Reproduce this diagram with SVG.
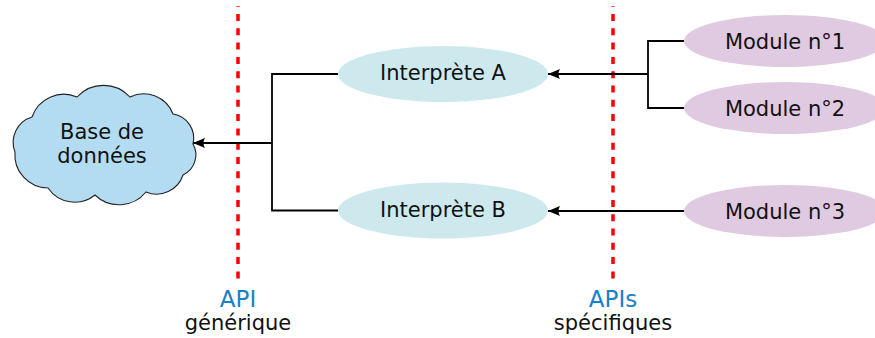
<svg xmlns="http://www.w3.org/2000/svg" width="875" height="338" viewBox="0 0 875 338">
  <defs>
    <marker id="arrow" viewBox="-13 -6 14 12" markerWidth="14" markerHeight="12" refX="0" refY="0" orient="auto" markerUnits="userSpaceOnUse">
      <path d="M0,0 L-12,-5 Q-9,0 -12,5 Z" fill="#000"/>
    </marker>
    <style>
      text { font-family: "DejaVu Sans", "Liberation Sans", sans-serif; font-size: 21px; fill: #111; text-anchor: middle; }
      .api { stroke: #ff0000; stroke-width: 3.5; stroke-dasharray: 7 7.3; stroke-dashoffset: 6.3; fill: none; }
      .edge { stroke: #000; stroke-width: 1.8; fill: none; }
      .interp { fill: #cde9ed; }
      .module { fill: #dfcae2; }
      .cloud { fill: #b3dcf3; stroke: #222; stroke-width: 1.1; }
      .blue { fill: #1b80c8; font-size: 23px; }
    </style>
  </defs>

  <!-- API boundaries -->
  <g id="api-boundaries">
    <line class="api" x1="238" y1="6" x2="238" y2="281"/>
    <line class="api" x1="613" y1="6" x2="613" y2="281"/>
  </g>

  <!-- connectors -->
  <g id="connectors">
    <polyline class="edge" points="338,74 272,74 272,210.5 338,210.5"/>
    <line class="edge" x1="272" y1="143" x2="193" y2="143" marker-end="url(#arrow)"/>
    <polyline class="edge" points="684,41 648,41 648,108 684,108"/>
    <line class="edge" x1="648" y1="74" x2="548" y2="74" marker-end="url(#arrow)"/>
    <line class="edge" x1="684" y1="211" x2="548" y2="211" marker-end="url(#arrow)"/>
  </g>

  <!-- database -->
  <g id="database">
    <path class="cloud" d="M77,97 A36,36 0 0 1 130,97 A31.4,31.4 0 0 1 173,114 A24.5,24.5 0 0 1 193,144 A22.2,22.2 0 0 1 183,175 A27.7,27.7 0 0 1 146,192 A34.7,34.7 0 0 1 95,195 A32.3,32.3 0 0 1 48,188 A33.2,33.2 0 0 1 15,152 A26.5,26.5 0 0 1 32,117 A33.5,33.5 0 0 1 77,97 Z"/>
    <text x="102" y="139">Base de</text>
    <text x="102" y="163">données</text>
  </g>

  <!-- interpreters -->
  <g id="interprete-a">
    <ellipse class="interp" cx="443" cy="74" rx="105" ry="28"/>
    <text x="443" y="80">Interprète A</text>
  </g>
  <g id="interprete-b">
    <ellipse class="interp" cx="443" cy="210.5" rx="105" ry="28"/>
    <text x="443" y="216.5">Interprète B</text>
  </g>

  <!-- modules -->
  <g id="module-1">
    <ellipse class="module" cx="785" cy="41" rx="101" ry="26"/>
    <text x="785" y="49">Module n°1</text>
  </g>
  <g id="module-2">
    <ellipse class="module" cx="785" cy="108" rx="101" ry="26"/>
    <text x="785" y="116">Module n°2</text>
  </g>
  <g id="module-3">
    <ellipse class="module" cx="785" cy="211" rx="101" ry="26"/>
    <text x="785" y="219">Module n°3</text>
  </g>

  <!-- boundary labels -->
  <g id="label-generique">
    <text class="blue" x="238" y="307">API</text>
    <text x="238" y="330">générique</text>
  </g>
  <g id="label-specifiques">
    <text class="blue" x="613" y="307">APIs</text>
    <text x="613" y="330">spécifiques</text>
  </g>
</svg>
